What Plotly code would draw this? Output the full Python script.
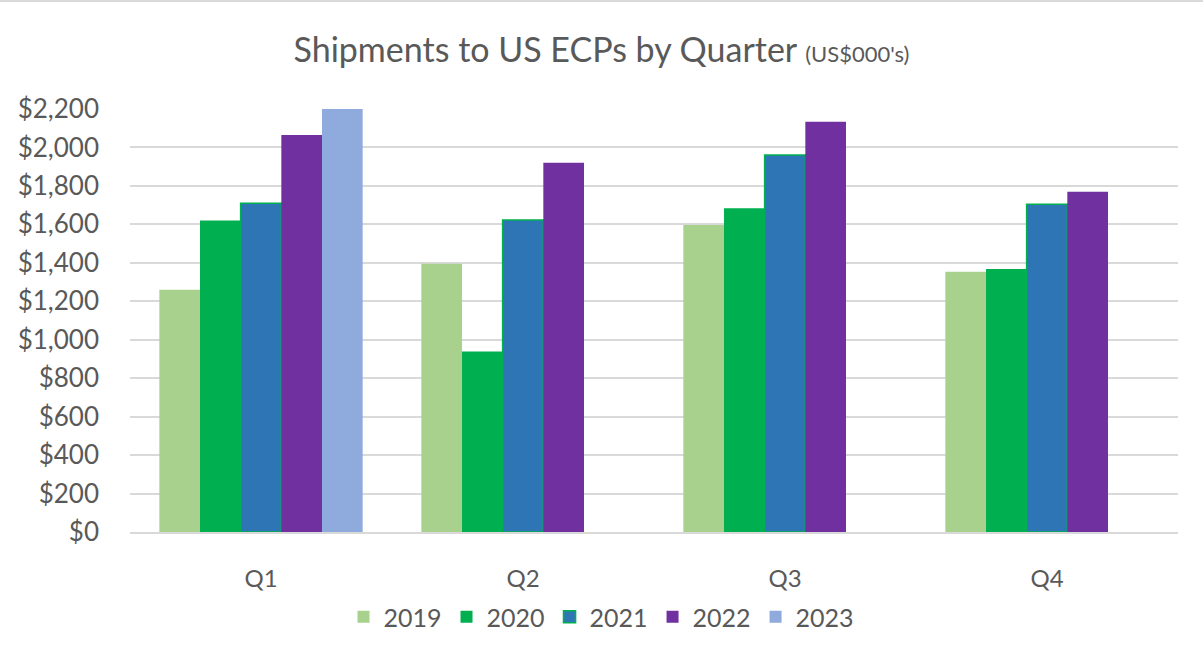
import plotly.graph_objects as go

quarters = ["Q1", "Q2", "Q3", "Q4"]
years = ["2019", "2020", "2021", "2022", "2023"]
v2019 = [1260, 1395, 1597, 1354]
v2020 = [1620, 939, 1684, 1368]
v2021 = [1710, 1623, 1961, 1705]
v2022 = [2065, 1921, 2134, 1770]
v2023 = [2208, None, None, None]
y_ticks = [0, 200, 400, 600, 800, 1000, 1200, 1400, 1600, 1800, 2000, 2200]
y_tick_labels = ["$" + f"{v:,}" for v in y_ticks]

series = [v2019, v2020, v2021, v2022, v2023]
fills = ["#A9D18E", "#00B050", "#2E75B6", "#7030A0", "#8FAADC"]
lines = ["#A9D18E", "#00B050", "#00B050", "#7030A0", "#8FAADC"]
lw = [0, 0, 1.6, 0, 0]

fig = go.Figure()
for name, vals, f, lc, w in zip(years, series, fills, lines, lw):
    fig.add_trace(go.Bar(x=quarters, y=vals, name=name,
                         marker=dict(color=f, line=dict(color=lc, width=w))))

FONT = "Lato"
GREY = "#595959"
fig.update_layout(
    width=1203, height=652,
    barmode="group", bargap=0.224, bargroupgap=0,
    paper_bgcolor="white", plot_bgcolor="white",
    margin=dict(l=130, r=25, t=109, b=120, autoexpand=False),
    title=dict(
        text="Shipments to US ECPs by Quarter <span style='font-size:22px'>(US$000's)</span>",
        x=0.5, xref="container", xanchor="center",
        y=1 - 50 / 652, yref="container", yanchor="middle",
        font=dict(family=FONT, size=34, color=GREY),
    ),
    font=dict(family=FONT, color=GREY),
    xaxis=dict(
        showgrid=False, showline=True, linecolor="#D9D9D9", linewidth=2,
        ticks="", tickfont=dict(family=FONT, size=24, color=GREY),
        ticklabelstandoff=24,
    ),
    yaxis=dict(
        range=[0, 2200], tickvals=y_ticks, ticktext=y_tick_labels,
        showgrid=True, gridcolor="#D9D9D9", gridwidth=2,
        zeroline=False, showline=False, ticks="",
        tickfont=dict(family=FONT, size=26, color=GREY),
        ticklabelstandoff=30,
    ),
    legend=dict(
        orientation="h", xref="container", yref="container",
        x=0.5, xanchor="center", y=1 - 617 / 652, yanchor="middle",
        font=dict(family=FONT, size=25, color=GREY),
        itemwidth=30, traceorder="normal",
    ),
    shapes=[dict(type="line", xref="paper", yref="paper",
                 x0=-130 / 1048, x1=(1203 - 130) / 1048,
                 y0=(532.3 - 1) / 423.3, y1=(532.3 - 1) / 423.3,
                 line=dict(color="#D9D9D9", width=2))],
)

fig.write_html("out.html", config={"displayModeBar": False},
               post_script="document.body.style.margin='0';")
